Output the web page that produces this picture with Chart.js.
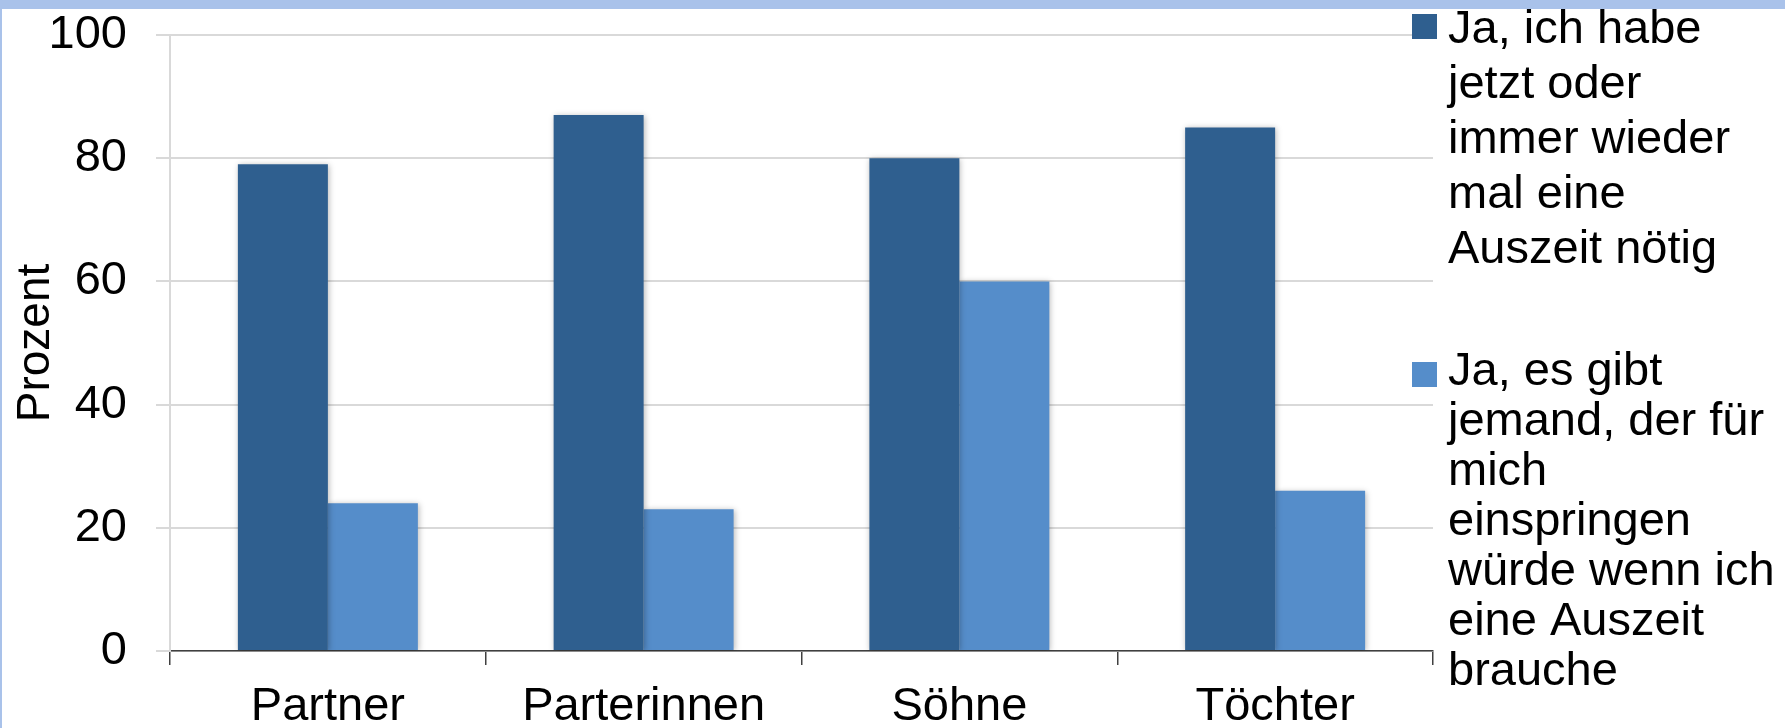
<!DOCTYPE html>
<html>
<head>
<meta charset="utf-8">
<script src="https://cdn.jsdelivr.net/npm/chart.js@4/dist/chart.umd.min.js"></script>
<style>
  html, body { margin: 0; padding: 0; background: #ffffff; overflow: hidden; }
  #wrap { position: relative; width: 1785px; height: 728px; }
  #c { position: absolute; left: 0; top: 0; }
  .strip { position: absolute; background: #a9c2ea; pointer-events: none; }
</style>
</head>
<body>
<div id="wrap">
  <canvas id="c" width="1785" height="728"></canvas>
  <div class="strip" style="left:0;top:0;width:1785px;height:9px;"></div>
  <div class="strip" style="left:0;top:0;width:2px;height:728px;"></div>
</div>
<script>
const categories = ['Partner', 'Parterinnen', 'Söhne', 'Töchter'];
const seriesNeedBreak = [79, 87, 80, 85];
const seriesSubstitute = [24, 23, 60, 26];
const seriesLabels = [
  ['Ja, ich habe', 'jetzt oder', 'immer wieder', 'mal eine', 'Auszeit nötig'],
  ['Ja, es gibt', 'jemand, der für', 'mich', 'einspringen', 'würde wenn ich', 'eine Auszeit', 'brauche']
];
const yTicks = [0, 20, 40, 60, 80, 100];
const yTitle = 'Prozent';

const FONT = '"Liberation Sans", Arial, sans-serif';
const FS = 47;

const shadowPlugin = {
  id: 'barShadow',
  beforeDatasetsDraw(chart) {
    const ctx = chart.ctx;
    ctx.save();
    ctx.shadowColor = 'rgba(0,0,0,0.28)';
    ctx.shadowBlur = 6;
    ctx.shadowOffsetX = 1;
    ctx.shadowOffsetY = 1;
  },
  afterDatasetsDraw(chart) {
    chart.ctx.restore();
  }
};

const legendPlugin = {
  id: 'customLegend',
  afterDraw(chart) {
    const ctx = chart.ctx;
    const items = [
      { sqY: 14, base: 43, lh: 55 },
      { sqY: 362, base: 385, lh: 50 }
    ];
    ctx.save();
    ctx.font = FS + 'px ' + FONT;
    ctx.textBaseline = 'alphabetic';
    ctx.textAlign = 'left';
    chart.data.datasets.forEach((ds, i) => {
      const it = items[i];
      ctx.fillStyle = ds.backgroundColor;
      ctx.fillRect(1412, it.sqY, 25, 25);
      ctx.fillStyle = '#000000';
      seriesLabels[i].forEach((line, k) => {
        ctx.fillText(line, 1448, it.base + k * it.lh);
      });
    });
    ctx.restore();
  }
};

new Chart(document.getElementById('c'), {
  type: 'bar',
  data: {
    labels: categories,
    datasets: [
      { label: seriesLabels[0].join(' '), data: seriesNeedBreak, backgroundColor: '#2f5f8f',
        categoryPercentage: 0.57, barPercentage: 1.0, borderWidth: 0 },
      { label: seriesLabels[1].join(' '), data: seriesSubstitute, backgroundColor: '#558dca',
        categoryPercentage: 0.57, barPercentage: 1.0, borderWidth: 0 }
    ]
  },
  options: {
    responsive: false,
    devicePixelRatio: 1,
    animation: false,
    layout: { padding: { top: 35, right: 352, left: 0, bottom: 0 } },
    plugins: {
      legend: { display: false },
      tooltip: { enabled: false },
      title: { display: false }
    },
    scales: {
      x: {
        offset: true,
        afterFit(scale) {
          scale.height = 77;
          scale.paddingLeft = 0; scale.paddingRight = 0;
        },
        grid: {
          display: true, offset: true, drawOnChartArea: false, drawTicks: true,
          tickLength: 14, color: '#404040', lineWidth: 1.5
        },
        border: { display: true, color: '#404040', width: 1.5 },
        ticks: {
          color: '#000000', padding: 14, maxRotation: 0, autoSkip: false,
          font: { family: FONT, size: FS }
        }
      },
      y: {
        min: 0, max: 100,
        afterFit(scale) {
          scale.width = 170;
          scale.paddingTop = 0; scale.paddingBottom = 0;
        },
        afterBuildTicks(scale) { scale.ticks = yTicks.map(v => ({ value: v })); },
        grid: { color: '#d9d9d9', lineWidth: 2, tickLength: 14, drawTicks: true },
        border: { display: true, color: '#d9d9d9', width: 2 },
        ticks: {
          color: '#000000', padding: 29,
          font: { family: FONT, size: FS }
        },
        title: {
          display: true, text: yTitle, color: '#000000',
          padding: { top: 9, bottom: 0 },
          font: { family: FONT, size: 46 }
        }
      }
    }
  },
  plugins: [shadowPlugin, legendPlugin]
});
</script>
</body>
</html>
